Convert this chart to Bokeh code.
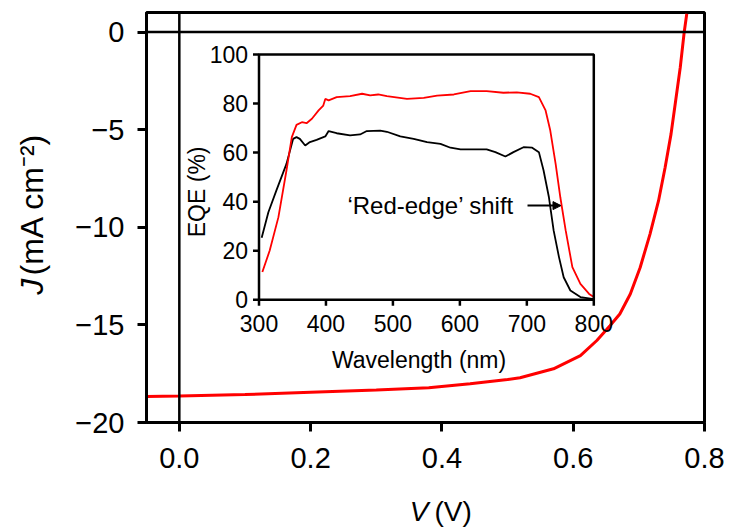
import numpy as np
from bokeh.plotting import figure
from bokeh.layouts import column, row
from bokeh.models import Range1d, FixedTicker, Span, Arrow, NormalHead
from bokeh.core.properties import value
from bokeh.embed import file_html
from bokeh.resources import INLINE

# ---------------- data ----------------
# J-V curve (main plot)
jv_voltage = [-0.05, 0.0, 0.1, 0.2, 0.3, 0.38, 0.443, 0.5, 0.519, 0.57, 0.611, 0.636,
              0.656, 0.671, 0.687, 0.702, 0.717, 0.730, 0.740, 0.749, 0.756, 0.763,
              0.769, 0.773]
jv_current = [-18.67, -18.64, -18.57, -18.45, -18.33, -18.22, -18.02, -17.80, -17.71,
              -17.25, -16.57, -15.80, -15.04, -14.44, -13.42, -12.06, -10.35, -8.64,
              -6.94, -5.23, -3.53, -1.83, -0.03, 0.94]

# EQE inset: black curve
eqe_wl_black = [304, 314, 326, 341, 351, 356, 361, 369, 376, 386, 399, 404, 416, 436, 451,
                461, 481, 491, 511, 531, 551, 571, 586, 601, 621, 640, 653, 668, 680, 695,
                708, 718, 725, 733, 740, 748, 755, 765, 780, 800]
eqe_black = [25.3, 35.7, 44.6, 55.4, 65.6, 66.3, 65.6, 62.9, 64.3, 65.2, 66.6, 68.8, 67.9,
             67.0, 67.4, 68.8, 69.0, 68.5, 66.6, 65.6, 64.3, 63.6, 62.0, 61.3, 61.3, 61.3,
             60.2, 58.4, 60.2, 62.2, 62.0, 60.2, 52.7, 41.8, 28.3, 17.4, 9.2, 3.8, 1.1, 0.3]

# EQE inset: red curve
eqe_wl_red = [305, 316, 329, 341, 349, 356, 364, 371, 379, 389, 396, 399, 404, 416, 436,
              454, 466, 478, 491, 521, 546, 566, 591, 616, 640, 665, 685, 705, 718, 728,
              735, 743, 750, 758, 768, 780, 793, 800]
eqe_red = [11.3, 20.1, 33.7, 52.7, 66.3, 71.3, 72.4, 72.0, 73.8, 77.2, 79.2, 81.9, 81.3,
           82.6, 83.0, 84.0, 83.3, 83.7, 83.0, 81.9, 82.3, 83.2, 83.7, 85.1, 85.1, 84.4,
           84.6, 84.0, 82.6, 77.2, 69.0, 55.4, 41.8, 28.3, 13.3, 6.5, 2.4, 1.1]

# ticks
x_ticks = [0.0, 0.2, 0.4, 0.6, 0.8]
x_tick_labels = ["0.0", "0.2", "0.4", "0.6", "0.8"]
y_ticks = [0, -5, -10, -15, -20]
y_tick_labels = ["0", "\u22125", "\u221210", "\u221215", "\u221220"]
inset_x_ticks = [300, 400, 500, 600, 700, 800]
inset_x_tick_labels = ["300", "400", "500", "600", "700", "800"]
inset_y_ticks = [0, 20, 40, 60, 80, 100]
inset_y_tick_labels = ["0", "20", "40", "60", "80", "100"]

x_label_symbol, x_label_unit = "V", "(V)"
y_label_symbol, y_label_unit = "J", "(mA cm\u207b\u00b2)"
annotation_text = "\u2018Red-edge\u2019 shift"
annotation_wl = 432
annotation_eqe = 38.4
arrow_wl = [701, 751]

# ---------------- layout constants (pixels) ----------------
W, H = 731, 528
YLW = 60                  # width of the y-label strip
XLH = 40                  # height of the x-label strip
MW, MH = W - YLW, H - XLH # main figure size
FL, FR, FT, FB = 146, 704, 12, 422          # main frame edges (page coords)
IL, IR, IT, IB = 258.5, 593.3, 54.0, 299.3  # inset box edges (page coords)

FONT = "Liberation Sans"


def blank_fig(w, h):
    f = figure(width=w, height=h, x_range=Range1d(0, w), y_range=Range1d(0, h),
               output_backend="svg", toolbar_location=None,
               x_axis_location=None, y_axis_location=None,
               min_border=0, min_border_left=0, min_border_right=0,
               min_border_top=0, min_border_bottom=0)
    f.grid.visible = False
    f.outline_line_color = None
    f.background_fill_color = "white"
    f.border_fill_color = "white"
    return f


# ---------------- main figure ----------------
p = figure(width=MW, height=MH,
           x_range=Range1d(-0.05, 0.8), y_range=Range1d(-20, 1.0),
           output_backend="svg", toolbar_location=None,
           min_border_left=FL - YLW, min_border_right=W - FR,
           min_border_top=FT, min_border_bottom=MH - FB)
p.grid.visible = False
p.background_fill_color = "white"
p.border_fill_color = "white"
p.outline_line_color = "black"
p.outline_line_width = 3
p.outline_line_alpha = 1.0

for ax, ticks, labels in ((p.xaxis[0], x_ticks, x_tick_labels), (p.yaxis[0], y_ticks, y_tick_labels)):
    ax.ticker = FixedTicker(ticks=ticks)
    ax.major_label_overrides = dict(zip(ticks, labels))
    ax.major_label_text_font = FONT
    ax.major_label_text_font_size = "29px"
    ax.major_label_text_color = "black"
    ax.axis_line_width = 3
    ax.axis_line_color = "black"
    ax.major_tick_line_width = 3
    ax.major_tick_line_color = "black"
    ax.major_tick_out = 9
    ax.major_tick_in = 0
    ax.minor_tick_out = 0
    ax.minor_tick_in = 0
p.xaxis.major_label_standoff = 16
p.yaxis.major_label_standoff = 13

# zero lines
p.add_layout(Span(location=0, dimension="height", line_color="black", line_width=2.5))
p.add_layout(Span(location=0, dimension="width", line_color="black", line_width=2.5))

# main J-V curve
p.line(jv_voltage, jv_current, line_color="#ff0000", line_width=3)

# ---------------- inset (drawn in extra ranges) ----------------
wl0, wl1 = inset_x_ticks[0], inset_x_ticks[-1]
e0, e1 = inset_y_ticks[0], inset_y_ticks[-1]
sx = (IR - IL) / (wl1 - wl0)
sy = (IB - IT) / (e1 - e0)
p.extra_x_ranges = {"wl": Range1d(wl0 - (IL - FL) / sx, wl1 + (FR - IR) / sx)}
p.extra_y_ranges = {"eqe": Range1d(e0 - (FB - IB) / sy, e1 + (IT - FT) / sy)}
R = dict(x_range_name="wl", y_range_name="eqe")

p.line(eqe_wl_black, eqe_black, line_color="black", line_width=1.8, **R)
p.line(eqe_wl_red, eqe_red, line_color="#ff0000", line_width=1.8, **R)

p.quad(left=[wl0], right=[wl1], bottom=[e0], top=[e1], fill_color=None,
       line_color="black", line_width=2.5, **R)

p.ray(x=inset_x_ticks, y=[e0] * len(inset_x_ticks), length=6, length_units="screen",
      angle=-np.pi / 2, line_color="black", line_width=2.5, **R)
p.ray(x=[wl0] * len(inset_y_ticks), y=inset_y_ticks, length=6, length_units="screen",
      angle=np.pi, line_color="black", line_width=2.5, **R)

p.text(x=inset_x_ticks, y=[e0] * len(inset_x_ticks), text=inset_x_tick_labels,
       text_align="center", text_baseline="middle", y_offset=24,
       text_font=value(FONT), text_font_size="23px", text_color="black", **R)
p.text(x=[wl0] * len(inset_y_ticks), y=inset_y_ticks, text=inset_y_tick_labels,
       text_align="right", text_baseline="middle", x_offset=-11,
       text_font=value(FONT), text_font_size="23px", text_color="black", **R)

p.text(x=[539], y=[e0], text=["Wavelength (nm)"], text_align="center",
       text_baseline="middle", y_offset=60,
       text_font=value(FONT), text_font_size="23px", text_color="black", **R)
p.text(x=[wl0], y=[44], text=["EQE (%)"], angle=np.pi / 2, text_align="center",
       text_baseline="middle", x_offset=-62,
       text_font=value(FONT), text_font_size="23px", text_color="black", **R)

p.text(x=[annotation_wl], y=[annotation_eqe], text=[annotation_text], text_align="left",
       text_baseline="middle", text_font=value(FONT), text_font_size="24px",
       text_color="black", **R)
p.add_layout(Arrow(x_start=arrow_wl[0], y_start=annotation_eqe,
                   x_end=arrow_wl[1], y_end=annotation_eqe,
                   line_color="black", line_width=2,
                   end=NormalHead(size=8, fill_color="black", line_color="black", line_width=1),
                   **R))

# ---------------- axis-label strips ----------------
ylab = blank_fig(YLW, MH)
ylab.text(x=[31], y=[MH - 317], text=[y_label_symbol], angle=np.pi / 2,
          text_align="right", text_baseline="middle", text_font=value(FONT),
          text_font_style="italic", text_font_size="32px", text_color="black")
ylab.text(x=[31], y=[MH - 313], text=[y_label_unit], angle=np.pi / 2,
          text_align="left", text_baseline="middle", text_font=value(FONT),
          text_font_size="32px", text_color="black")

xlab = blank_fig(W, XLH)
xlab.text(x=[428], y=[XLH - (511 - MH)], text=[x_label_symbol],
          text_align="right", text_baseline="middle", text_font=value(FONT),
          text_font_style="italic", text_font_size="28px", text_color="black")
xlab.text(x=[434], y=[XLH - (511 - MH)], text=[x_label_unit],
          text_align="left", text_baseline="middle", text_font=value(FONT),
          text_font_size="28px", text_color="black")

layout = column(row(ylab, p, spacing=0), xlab, spacing=0)
open("out.html", "w").write(file_html(layout, INLINE))
